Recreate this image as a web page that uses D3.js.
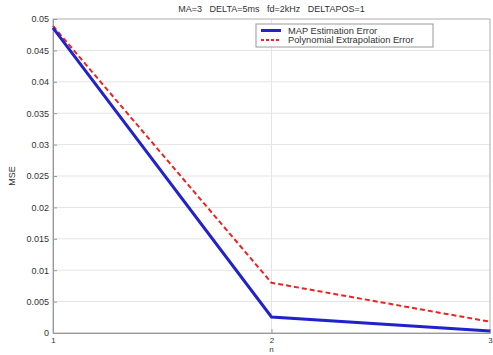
<!DOCTYPE html>
<html>
<head>
<meta charset="utf-8">
<script src="https://cdn.jsdelivr.net/npm/d3@7"></script>
<style>
  body { margin: 0; background: #fff; }
  svg text { font-family: "Liberation Sans", Arial, sans-serif; fill: #333; }
  .grid line { stroke: #e4e4e4; }
  .axis path, .axis line { stroke: #999; }
</style>
</head>
<body>
<svg id="chart" width="493" height="355"></svg>
<script>
var titleText = "MA=3   DELTA=5ms   fd=2kHz   DELTAPOS=1";
var xLabel = "n";
var yLabel = "MSE";

var steps = [1, 2, 3];
var mapError = [0.0486, 0.00255, 0.0003];
var polyError = [0.0489, 0.0080, 0.0018];
var yTicks = [0, 0.005, 0.01, 0.015, 0.02, 0.025, 0.03, 0.035, 0.04, 0.045, 0.05];

var seriesNames = ["MAP Estimation Error", "Polynomial Extrapolation Error"];

var margin = { top: 19, right: 3, bottom: 22, left: 53 };
var width = 493 - margin.left - margin.right,
    height = 355 - margin.top - margin.bottom;

var svg = d3.select("#chart");
var g = svg.append("g")
    .attr("transform", "translate(" + margin.left + "," + margin.top + ")");

var x = d3.scaleLinear().domain([1, 3]).range([0, width]);
var y = d3.scaleLinear().domain([0, 0.05]).range([height, 0]);

// grid
g.append("g").attr("class", "grid")
    .selectAll("line.h").data(yTicks).enter().append("line")
    .attr("x1", 0).attr("x2", width)
    .attr("y1", function (d) { return y(d); })
    .attr("y2", function (d) { return y(d); });
g.append("g").attr("class", "grid")
    .selectAll("line.v").data(steps).enter().append("line")
    .attr("y1", 0).attr("y2", height)
    .attr("x1", function (d) { return x(d); })
    .attr("x2", function (d) { return x(d); });

// frame
g.append("rect")
    .attr("width", width).attr("height", height)
    .attr("fill", "none").attr("stroke", "#bbb");

var xAxis = g.append("g").attr("class", "axis")
    .attr("transform", "translate(0," + height + ")")
    .call(d3.axisBottom(x).tickValues(steps).tickFormat(d3.format("d")).tickSize(-4).tickPadding(4));
var yAxis = g.append("g").attr("class", "axis")
    .call(d3.axisLeft(y).tickValues(yTicks).tickFormat(function (d) { return d === 0 ? "0" : String(+d.toFixed(3)); }).tickSize(-4).tickPadding(4));
g.selectAll(".axis text").attr("font-size", 9).attr("fill", "#555");
xAxis.selectAll("text").attr("font-size", 8);
g.selectAll(".axis .domain").attr("stroke", "#aaa");

var line = d3.line()
    .x(function (d, i) { return x(steps[i]); })
    .y(function (d) { return y(d); });

g.append("path")
    .datum(polyError)
    .attr("d", line)
    .attr("fill", "none")
    .attr("stroke", "#ee2222")
    .attr("stroke-width", 2)
    .attr("stroke-dasharray", "5,3");

g.append("path")
    .datum(mapError)
    .attr("d", line)
    .attr("fill", "none")
    .attr("stroke", "#2222cc")
    .attr("stroke-width", 3);

// title and labels
svg.append("text")
    .attr("x", margin.left + width / 2).attr("y", 12)
    .attr("text-anchor", "middle").attr("font-size", 9)
    .attr("xml:space", "preserve")
    .text(titleText);
svg.append("text")
    .attr("x", margin.left + width / 2).attr("y", 352)
    .attr("text-anchor", "middle").attr("font-size", 8)
    .text(xLabel);
svg.append("text")
    .attr("transform", "translate(15," + (margin.top + height / 2) + ") rotate(-90)")
    .attr("text-anchor", "middle").attr("font-size", 9)
    .text(yLabel);

// legend
var legend = g.append("g").attr("transform", "translate(" + (256 - margin.left) + "," + (24 - margin.top) + ")");
legend.append("rect")
    .attr("width", 177).attr("height", 23)
    .attr("fill", "#fff").attr("stroke", "#999");
var styles = [
    { color: "#2222cc", w: 3, dash: null },
    { color: "#ee2222", w: 2, dash: "3,2" }
];
seriesNames.forEach(function (name, i) {
    var ly = 6.5 + i * 9.5;
    legend.append("line")
        .attr("x1", 5).attr("x2", 25)
        .attr("y1", ly).attr("y2", ly)
        .attr("stroke", styles[i].color)
        .attr("stroke-width", styles[i].w)
        .attr("stroke-dasharray", styles[i].dash);
    legend.append("text")
        .attr("x", 32).attr("y", ly + 3)
        .attr("font-size", 9.3)
        .text(name);
});
</script>
</body>
</html>
